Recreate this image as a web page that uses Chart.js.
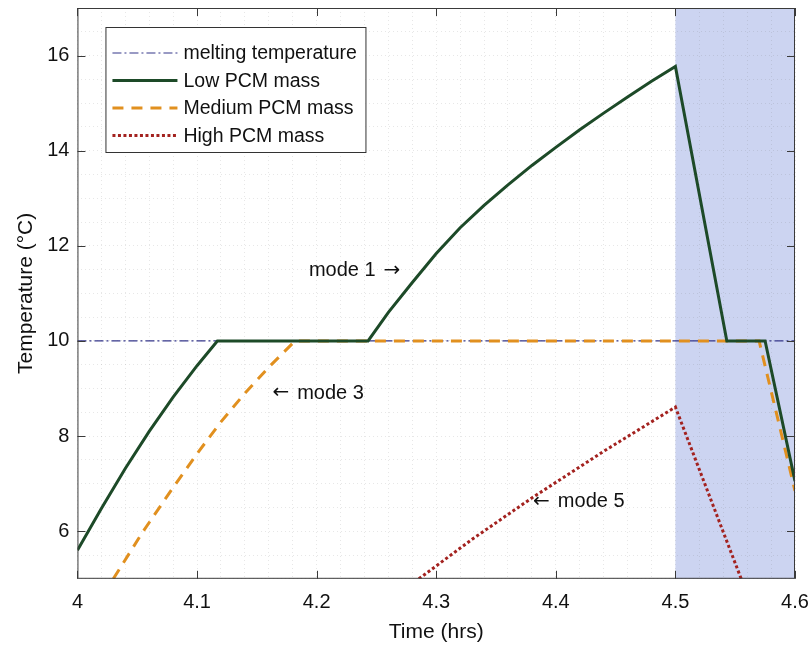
<!DOCTYPE html>
<html>
<head>
<meta charset="utf-8">
<title>PCM temperature</title>
<script src="https://cdn.jsdelivr.net/npm/chart.js@4"></script>
<style>
  html, body { margin: 0; padding: 0; background: #fff; }
  #wrap { width: 811px; height: 650px; }
</style>
</head>
<body>
<div id="wrap"><canvas id="myChart" width="811" height="650"></canvas></div>
<script>
// time (hrs) / temperature (degC) series
const meltTime = [4.0, 4.6];
const meltTemp = [10, 10];

const lowTime = [4.0, 4.02, 4.04, 4.06, 4.08, 4.10, 4.117, 4.243, 4.26, 4.28, 4.30, 4.32, 4.34, 4.36,
                 4.38, 4.40, 4.42, 4.44, 4.46, 4.48, 4.50, 4.543, 4.575, 4.60];
const lowTemp = [5.6, 6.48, 7.32, 8.1, 8.82, 9.48, 10, 10, 10.6, 11.23, 11.84, 12.38, 12.85, 13.28,
                 13.69, 14.07, 14.44, 14.79, 15.13, 15.46, 15.77, 10, 10, 7.05];

const medTime = [4.03, 4.055, 4.08, 4.10, 4.12, 4.14, 4.16, 4.182, 4.570, 4.60];
const medTemp = [5, 6, 6.92, 7.63, 8.3, 8.9, 9.45, 10, 10, 6.85];

const highTime = [4.2855, 4.33, 4.38, 4.44, 4.50, 4.555];
const highTemp = [5, 5.83, 6.70, 7.68, 8.61, 5];

// shaded interval and text notes
const shadeFrom = 4.5;
const shadeTo = 4.6;
const notes = [
  { text: "mode 1", arrow: "right", x: 4.27, y: 11.48 },
  { text: "mode 3", arrow: "left", x: 4.163, y: 8.9 },
  { text: "mode 5", arrow: "left", x: 4.381, y: 6.62 },
];

const FONT = "'Liberation Sans', Arial, sans-serif";

function pts(xs, ys) {
  return xs.map((x, i) => ({ x: x, y: ys[i] }));
}

const shading = {
  id: "shading",
  beforeDraw(chart) {
    const { ctx, chartArea, scales } = chart;
    const x0 = scales.x.getPixelForValue(shadeFrom);
    const x1 = scales.x.getPixelForValue(shadeTo);
    ctx.save();
    ctx.fillStyle = "#ccd4f1";
    ctx.fillRect(x0, chartArea.top, x1 - x0, chartArea.bottom - chartArea.top);
    ctx.restore();
  },
};

// box around the axes with inward major ticks, plus the mode notes
const frame = {
  id: "frame",
  afterDatasetsDraw(chart) {
    const { ctx, chartArea: a, scales } = chart;
    ctx.save();
    ctx.strokeStyle = "#3a3a3a";
    ctx.lineWidth = 1;
    ctx.strokeRect(a.left + 0.5, a.top + 0.5, a.right - a.left - 1, a.bottom - a.top - 1);
    const len = 8;
    ctx.beginPath();
    scales.x.ticks.forEach((t) => {
      if (!t.label) return;
      const px = Math.round(scales.x.getPixelForValue(t.value)) + 0.5;
      ctx.moveTo(px, a.bottom); ctx.lineTo(px, a.bottom - len);
      ctx.moveTo(px, a.top); ctx.lineTo(px, a.top + len);
    });
    scales.y.ticks.forEach((t) => {
      if (!t.label) return;
      const py = Math.round(scales.y.getPixelForValue(t.value)) + 0.5;
      ctx.moveTo(a.left, py); ctx.lineTo(a.left + len, py);
      ctx.moveTo(a.right, py); ctx.lineTo(a.right - len, py);
    });
    ctx.stroke();

    // notes: arrow glyph in DejaVu (longer arrows), words in Liberation
    ctx.fillStyle = "#111";
    ctx.textBaseline = "middle";
    ctx.textAlign = "left";
    const textFont = "20px " + FONT;
    const arrowFont = "20px 'DejaVu Sans', sans-serif";
    notes.forEach((n) => {
      const px = scales.x.getPixelForValue(n.x);
      const py = scales.y.getPixelForValue(n.y);
      ctx.font = textFont;
      const tw = ctx.measureText(n.text).width;
      ctx.font = arrowFont;
      const aw = ctx.measureText("\u2192").width;
      const gap = 8;
      if (n.arrow === "right") {
        const start = px - aw - gap - tw;
        ctx.font = textFont;
        ctx.fillText(n.text, start, py);
        ctx.font = arrowFont;
        ctx.fillText("\u2192", px - aw, py);
      } else {
        ctx.font = arrowFont;
        ctx.fillText("\u2190", px, py);
        ctx.font = textFont;
        ctx.fillText(n.text, px + aw + gap, py);
      }
    });
    ctx.restore();
  },
};

// legend box in the upper-left corner of the plot
const boxLegend = {
  id: "boxLegend",
  afterDraw(chart) {
    const { ctx, chartArea: a } = chart;
    const left = a.left + 28, top = a.top + 19;
    const w = 260, rowH = 27.5;
    const sets = chart.data.datasets;
    ctx.save();
    ctx.fillStyle = "#fff";
    ctx.fillRect(left, top, w, rowH * sets.length + 15);
    ctx.strokeStyle = "#333";
    ctx.lineWidth = 1;
    ctx.strokeRect(left + 0.5, top + 0.5, w, rowH * sets.length + 15);
    ctx.font = "19.5px " + FONT;
    ctx.textBaseline = "middle";
    ctx.textAlign = "left";
    sets.forEach((ds, i) => {
      const y = top + 26 + i * rowH;
      ctx.beginPath();
      ctx.strokeStyle = ds.borderColor;
      ctx.lineWidth = ds.borderWidth;
      ctx.setLineDash(ds.borderDash || []);
      ctx.moveTo(left + 7, y);
      ctx.lineTo(left + 72, y);
      ctx.stroke();
      ctx.setLineDash([]);
      ctx.fillStyle = "#111";
      ctx.fillText(ds.label, left + 78, y + 1);
    });
    ctx.restore();
  },
};

const ctx = document.getElementById("myChart");

new Chart(ctx, {
  type: "line",
  data: {
    datasets: [
      {
        label: "melting temperature",
        data: pts(meltTime, meltTemp),
        borderColor: "#34368a",
        borderWidth: 1.2,
        borderDash: [9, 3, 2, 3],
        order: 4,
      },
      {
        label: "Low PCM mass",
        data: pts(lowTime, lowTemp),
        borderColor: "#1d4a28",
        borderWidth: 3,
        order: 1,
      },
      {
        label: "Medium PCM mass",
        data: pts(medTime, medTemp),
        borderColor: "#e1901f",
        borderWidth: 3,
        borderDash: [11, 8],
        order: 2,
      },
      {
        label: "High PCM mass",
        data: pts(highTime, highTemp),
        borderColor: "#a3221f",
        borderWidth: 3,
        borderDash: [3, 2.5],
        order: 3,
      },
    ],
  },
  options: {
    responsive: false,
    animation: false,
    events: [],
    layout: { padding: { top: 8, right: 16, left: 14, bottom: 5 } },
    elements: {
      point: { radius: 0 },
      line: { tension: 0, fill: false, borderCapStyle: "butt", borderJoinStyle: "miter" },
    },
    plugins: {
      legend: { display: false },
      tooltip: { enabled: false },
    },
    scales: {
      x: {
        type: "linear",
        min: 4,
        max: 4.6,
        afterFit: (s) => { s.paddingLeft = 0; s.paddingRight = 0; },
        grid: { color: "rgba(110,110,110,0.17)", drawTicks: false },
        border: { display: false, dash: [1, 3] },
        ticks: {
          stepSize: 0.02,
          autoSkip: false,
          maxRotation: 0,
          padding: 12,
          color: "#111",
          font: { family: FONT, size: 20 },
          callback: (v) => {
            const r = Math.round(v * 10) / 10;
            return Math.abs(v - r) < 1e-6 ? String(r) : "";
          },
        },
        title: {
          display: true,
          text: "Time (hrs)",
          color: "#111",
          font: { family: FONT, size: 21 },
          padding: { top: -7, bottom: 0 },
        },
      },
      y: {
        min: 5,
        max: 17,
        afterFit: (s) => { s.paddingTop = 0; s.paddingBottom = 0; },
        grid: { color: "rgba(110,110,110,0.17)", drawTicks: false },
        border: { display: false, dash: [1, 3] },
        ticks: {
          stepSize: 0.5,
          autoSkip: false,
          padding: 8,
          color: "#111",
          font: { family: FONT, size: 20 },
          callback: (v) => (v % 2 === 0 && v >= 6 && v <= 16 ? String(v) : ""),
        },
        title: {
          display: true,
          text: "Temperature (\u00B0C)",
          color: "#111",
          font: { family: FONT, size: 21 },
          padding: { top: 0, bottom: 0 },
        },
      },
    },
  },
  plugins: [shading, frame, boxLegend],
});
</script>
</body>
</html>
